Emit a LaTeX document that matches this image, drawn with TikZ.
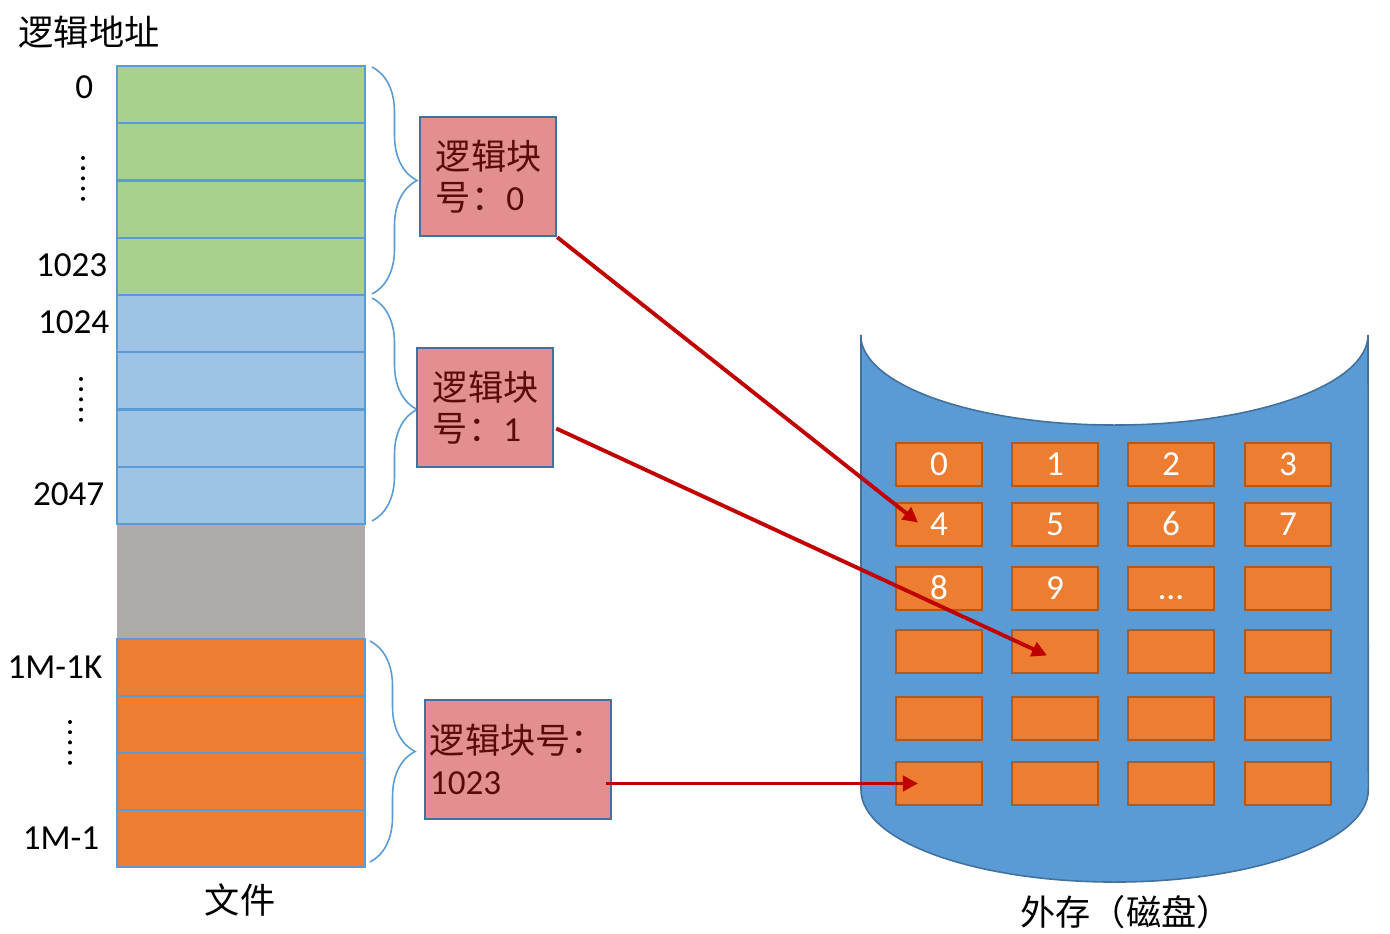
\documentclass[tikz,border=0pt]{standalone}
\usepackage{fontspec}
\setmainfont{Carlito}
\newfontfamily\cjk{Noto Sans CJK SC}
\usetikzlibrary{arrows.meta,calc,decorations.pathreplacing}
\definecolor{greencell}{HTML}{A9D18E}
\definecolor{bluecell}{HTML}{9DC3E6}
\definecolor{graycell}{HTML}{AFABAB}
\definecolor{orangecell}{HTML}{ED7D31}
\definecolor{cellline}{HTML}{5B9BD5}
\definecolor{blkfill}{HTML}{E48F8F}
\definecolor{boxline}{HTML}{41719C}
\definecolor{blktext}{HTML}{5A0A0A}
\definecolor{diskblue}{HTML}{5B9BD5}
\definecolor{diskcellline}{HTML}{AE5A21}
\definecolor{arrowred}{HTML}{C00000}

\begin{document}
\begin{tikzpicture}[x=0.01cm, y=-0.01cm,
			font=\fontsize{10}{11.7}\selectfont,
			cell/.style={draw=cellline, line width=0.6pt},
			brace/.style={draw=cellline, line width=0.45pt, decorate,
				decoration={brace, amplitude=0.45cm}},
			blkbox/.style={draw=boxline, fill=blkfill, line width=0.7pt, text=blktext,
				align=left, minimum height=1.19cm, inner xsep=0.16cm, text width=1.04cm},
			disk cell/.style={draw=diskcellline, fill=orangecell, line width=0.6pt,
				minimum width=0.86cm, minimum height=0.43cm, inner sep=0pt},
			link/.style={draw=arrowred, line width=1.1pt,
				-{Triangle[length=0.15cm, width=0.15cm]}}]
			\tikzstyle{addr}=[anchor=east, inner sep=0pt]
			\tikzstyle{celltxt}=[text=white, inner sep=0pt, text height=1.3ex, text depth=0pt]
			\useasboundingbox (0,0) rectangle (1390,934);

			\node[anchor=west, inner sep=0pt] (title) at (18,32) {\cjk 逻辑地址};

			\fill[graycell] (117,524) rectangle (365,639);
			\foreach \i in {0,...,3} {
				\draw[cell, fill=greencell] (117,{66+57.25*\i}) rectangle ++(248,57.25);
				\draw[cell, fill=bluecell] (117,{295+57.25*\i}) rectangle ++(248,57.25);
				\draw[cell, fill=orangecell] (117,{639+57*\i}) rectangle ++(248,57);
			}

			\node[addr] (a0) at (94,87) {0};
			\node[addr] (a1023) at (108,265) {1023};
			\node[addr] (a1024) at (110,322) {1024};
			\node[addr] (a2047) at (105,494) {2047};
			\node[addr] (a1m1k) at (103,667) {1M-1K};
			\node[addr] (a1m1) at (100,838) {1M-1};
			\foreach \x/\y in {83/158, 81/379, 70/722}
				\foreach \k in {0,...,4}
					\fill (\x,{\y+10.2*\k}) circle[radius=0.02cm];

			\node (file) at (240,900) {\cjk 文件};

			\draw[brace] (372,67) -- (372,294);
			\draw[brace] (372,298) -- (372,521);
			\draw[brace] (370,641) -- (370,862);

			\node[blkbox] (blk0) at (488,176.5) {{\cjk 逻辑块}\\{\cjk 号：}0};
			\node[blkbox] (blk1) at (485,407.5) {{\cjk 逻辑块}\\{\cjk 号：}1};
			\node[blkbox, text width=1.76cm, inner xsep=0.05cm] (blk2) at (518,759.5)
				{{\cjk 逻辑块号：}\\1023};

			\draw[fill=diskblue, draw=boxline, line width=0.45pt] (861,335) -- (861,790)
				arc[start angle=180, end angle=360, x radius=2.535cm, y radius=0.92cm]
				-- (1368,335)
				arc[start angle=0, end angle=-180, x radius=2.535cm, y radius=0.9cm];
			\node (disk) at (1126,912) {\cjk 外存（磁盘）};

			\foreach \y [count=\r from 0] in {464.5,524.5,588.5,651.5,718.5,783.5}
				\foreach \x [count=\c from 0] in {939,1055,1171,1288}
					\node[disk cell] (c\r\c) at (\x,\y) {};
			\foreach \c/\t in {00/0,01/1,02/2,03/3,10/4,11/5,12/6,13/7,20/8,21/9,22/\dots}
				\node[celltxt] at (c\c) {\t};

			\draw[link] (blk0.south east) -- ($(c10.center)+(-21,-2)$);
			\draw[link] ($(blk1.east)+(2,21)$) -- ($(c31.center)+(-8,4)$);
			\draw[link] ($(blk2.east)+(-6,24)$) -- ($(c50.center)+(-21,0)$);

		\end{tikzpicture}
\end{document}
